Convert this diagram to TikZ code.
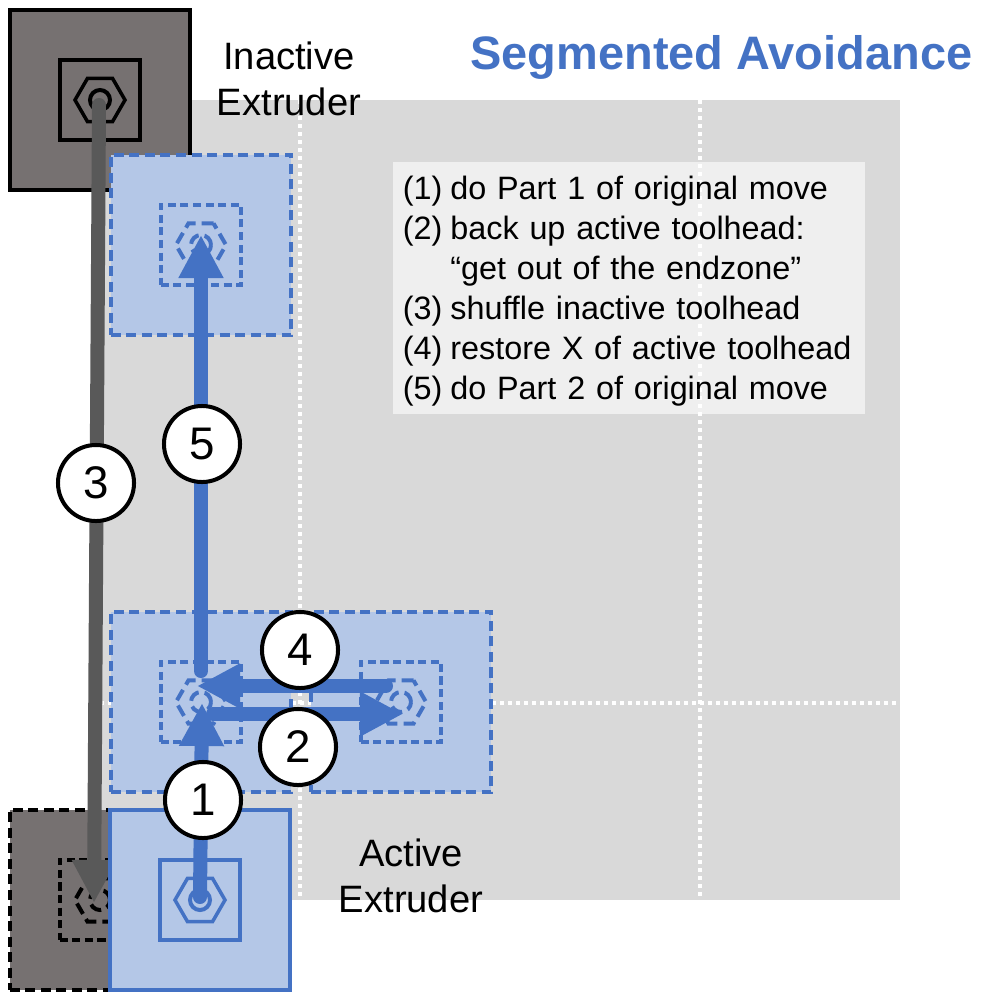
\documentclass[tikz,border=0pt]{standalone}
\usepackage{fontspec}
\setmainfont{Liberation Sans}
\usetikzlibrary{positioning, arrows.meta, shapes.geometric}
\definecolor{toolblue}{HTML}{4472C4}
\definecolor{toolfill}{HTML}{B4C7E7}
\definecolor{toolgrey}{HTML}{767171}
\definecolor{movegrey}{HTML}{595959}
\definecolor{bedgrey}{HTML}{D9D9D9}
\tikzset{
	outer box/.style={rectangle, minimum size=1.8cm, inner sep=0pt, outer sep=0pt, line width=0.04cm},
	inner box/.style={rectangle, minimum size=0.8cm, inner sep=0pt, outer sep=0pt, line width=0.035cm},
	hex nut/.style={regular polygon, regular polygon sides=6, minimum size=0.5cm, inner sep=0pt, outer sep=0pt, line width=0.035cm},
	nozzle/.style={circle, minimum size=0.2cm, inner sep=0pt, outer sep=0pt, line width=0.04cm},
	inactive/.style={draw=black, fill=toolgrey},
	active/.style={draw=toolblue, fill=toolfill},
	ghost/.style={line width=0.045cm, dash pattern=on 0.1cm off 0.055cm},
	small ghost/.style={line width=0.04cm, dash pattern=on 0.08cm off 0.045cm},
	nut ghost/.style={line width=0.04cm, dash pattern=on 0.12cm off 0.06cm},
	grid line/.style={white, line width=0.035cm, dash pattern=on 0.04cm off 0.04cm},
	move/.style={line width=0.14cm, line cap=round, -{Triangle[width=0.42cm, length=0.43cm]}},
	step mark/.style={circle, draw=black, fill=white, minimum size=0.76cm, inner sep=0pt, line width=0.04cm, font=\fontsize{13}{13}\selectfont},
	extruder label/.style={align=center, inner sep=0pt, font=\fontsize{10.85}{13.2}\selectfont},
}
\newcommand{\stepno}[1]{\makebox[0.475cm][l]{(#1)}}
\begin{document}
\begin{tikzpicture}[x=0.01cm, y=-0.01cm]
	\useasboundingbox (0,0) rectangle (1000,1000);
	% Bed
	\node[rectangle, fill=bedgrey, minimum size=8cm, inner sep=0pt] (bed) at (500,500) {};
	\coordinate (gridA) at (300,100);
	\coordinate (gridB) at (300,900);
	\coordinate (gridC) at (700,100);
	\coordinate (gridD) at (700,900);
	\coordinate (gridE) at (100,703);
	\coordinate (gridF) at (900,703);
	\draw[grid line] (gridA) -- (gridB);
	\draw[grid line] (gridC) -- (gridD);
	\draw[grid line] (gridE) -- (gridF);
	% Inactive extruder, start
	\node[outer box, inactive] (top) at (100,100) {};
	\node[inner box, draw=black] (top box) at (top) {};
	\node[hex nut, draw=black] (top hex) at (top) {};
	\node[nozzle, draw=black] (top nozzle) at (top) {};
	% Inactive extruder, end
	\node[outer box, inactive, ghost] (bottom) at (100,900) {};
	\node[inner box, draw=black, small ghost] (bottom box) at (bottom) {};
	\node[hex nut, draw=black, nut ghost] (bottom hex) at (bottom) {};
	\node[nozzle, draw=black, nut ghost] (bottom nozzle) at (bottom) {};
	% Ghost positions
	\node[outer box, active, ghost] (upper) at (201,245) {};
	\node[inner box, draw=toolblue, small ghost] (upper box) at (upper) {};
	\node[hex nut, draw=toolblue, nut ghost] (upper hex) at (upper) {};
	\node[nozzle, draw=toolblue, nut ghost] (upper nozzle) at (upper) {};
	\node[outer box, active, ghost] (left) at (201,702) {};
	\node[inner box, draw=toolblue, small ghost] (left box) at (left) {};
	\node[hex nut, draw=toolblue, nut ghost] (left hex) at (left) {};
	\node[nozzle, draw=toolblue, nut ghost] (left nozzle) at (left) {};
	\node[outer box, active, ghost] (right) at (401,702) {};
	\node[inner box, draw=toolblue, small ghost] (right box) at (right) {};
	\node[hex nut, draw=toolblue, nut ghost] (right hex) at (right) {};
	\node[nozzle, draw=toolblue, nut ghost] (right nozzle) at (right) {};
	% Move of the inactive toolhead
	\coordinate (start3) at (99,105);
	\coordinate (end3) at (94,903);
	\draw[move, movegrey] (start3) -- (end3);
	% Active extruder
	\node[outer box, active] (home) at (200,900) {};
	\node[inner box, draw=toolblue] (home box) at (home) {};
	\node[hex nut, draw=toolblue] (home hex) at (home) {};
	\node[nozzle, draw=toolblue] (home nozzle) at (home) {};
	% Moves of the active toolhead
	\coordinate (start1) at (200,897);
	\coordinate (end1) at (202,703);
	\coordinate (start2) at (213,714);
	\coordinate (end2) at (403,714);
	\coordinate (start4) at (386,686);
	\coordinate (end4) at (197,686);
	\coordinate (start5) at (201,671);
	\coordinate (end5) at (201,235);
	\draw[move, toolblue] (start1) -- (end1);
	\draw[move, toolblue] (start2) -- (end2);
	\draw[move, toolblue] (start4) -- (end4);
	\draw[move, toolblue] (start5) -- (end5);
	% Marks
	\node[step mark] (mark1) at (203,800) {1};
	\node[step mark] (mark2) at (298,747) {2};
	\node[step mark] (mark3) at (96,483) {3};
	\node[step mark] (mark4) at (300,650) {4};
	\node[step mark] (mark5) at (202,444) {5};
	% Labels
	\node[extruder label] (inactive label) at (289,79) {Inactive\\Extruder};
	\node[extruder label] (active label) at (411,876) {Active\\Extruder};
	\node[anchor=east, inner sep=0pt, text=toolblue, font=\fontsize{13.35}{13.35}\selectfont\bfseries] (title) at (973,57) {Segmented Avoidance};
	\node[rectangle, fill=white, fill opacity=0.6, minimum width=4.72cm, minimum height=2.52cm, inner sep=0pt] (notes box) at (629,288) {};
	\node[text width=4.52cm, inner sep=0pt, align=left, font=\fontsize{9.2}{11.38}\selectfont] (notes) at (629,291) {%
		\stepno{1}do Part 1 of original move\\
		\stepno{2}back up active toolhead:\\
		\hspace*{0.475cm}“get out of the endzone”\\
		\stepno{3}shuffle inactive toolhead\\
		\stepno{4}restore X of active toolhead\\
		\stepno{5}do Part 2 of original move};
\end{tikzpicture}
\end{document}
